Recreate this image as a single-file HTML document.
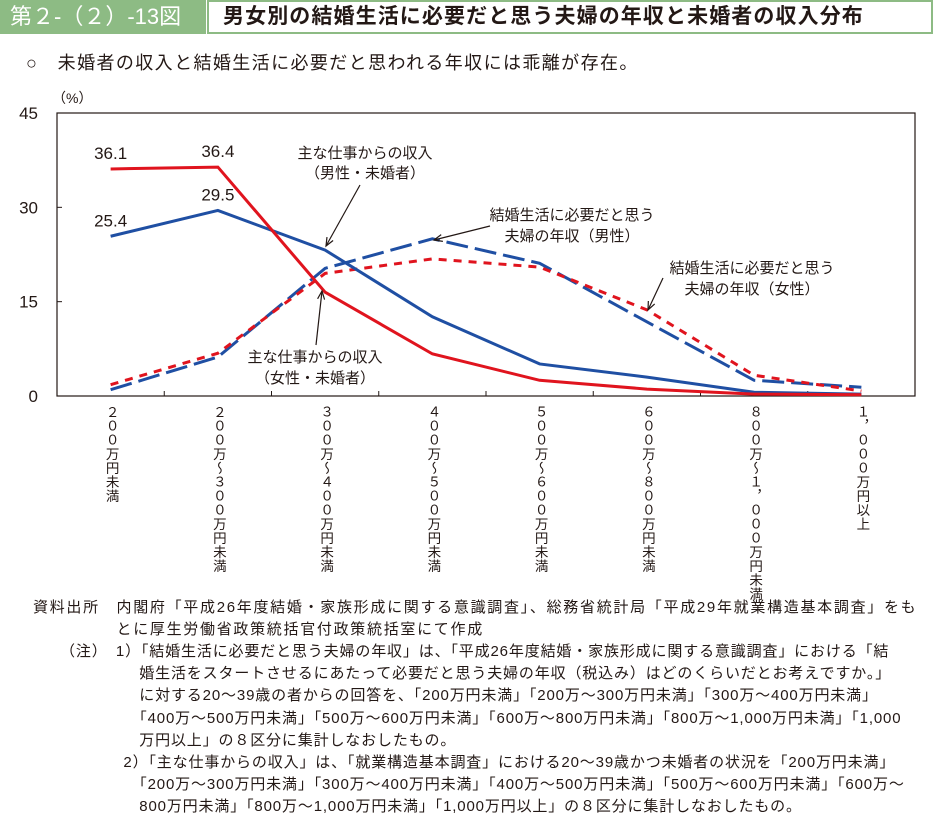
<!DOCTYPE html>
<html><head><meta charset="utf-8">
<style>
body{margin:0;width:933px;height:836px;background:#fff;font-family:"Liberation Sans","Noto Sans CJK JP",sans-serif;color:#231815;position:relative;overflow:hidden}
.abs{position:absolute;white-space:nowrap}
.vl{position:absolute;writing-mode:vertical-rl;font-size:13.5px;line-height:14px;letter-spacing:0.5px;top:405px}
.note{font-size:15px;line-height:22.2px}
</style></head><body>
<div class="abs" style="left:0;top:0;width:206px;height:34px;background:#8dbb84;color:#fff;font-size:22px;line-height:34px;padding-left:10px;box-sizing:border-box">第２-（２）-13図</div>
<div class="abs" style="left:207px;top:0;width:726px;height:34px;border:2px solid #8dbb84;box-sizing:border-box;font-size:21px;font-weight:bold;line-height:30px;padding-left:14px;letter-spacing:1.1px">男女別の結婚生活に必要だと思う夫婦の年収と未婚者の収入分布</div>
<div class="abs" style="left:26px;top:49px;font-size:18px;letter-spacing:1.4px">○　未婚者の収入と結婚生活に必要だと思われる年収には乖離が存在。</div>

<svg class="abs" style="left:0;top:0" width="933" height="600" id="chart"></svg>

<div id="xlabels"></div>

<div class="abs note" style="left:33px;top:597px;letter-spacing:1.7px">資料出所　内閣府「平成26年度結婚・家族形成に関する意識調査」、総務省統計局「平成29年就業構造基本調査」をも<br>　　　　　とに厚生労働省政策統括官付政策統括室にて作成</div>
<div class="abs note" style="left:60px;top:641px;letter-spacing:0.85px">（注）　1）「結婚生活に必要だと思う夫婦の年収」は、「平成26年度結婚・家族形成に関する意識調査」における「結<br>　　　　　婚生活をスタートさせるにあたって必要だと思う夫婦の年収（税込み）はどのくらいだとお考えですか。」<br>　　　　　に対する20～39歳の者からの回答を、「200万円未満」「200万～300万円未満」「300万～400万円未満」<br>　　　　　「400万～500万円未満」「500万～600万円未満」「600万～800万円未満」「800万～1,000万円未満」「1,000<br>　　　　　万円以上」の８区分に集計しなおしたもの。<br>　　　　2）「主な仕事からの収入」は、「就業構造基本調査」における20～39歳かつ未婚者の状況を「200万円未満」<br>　　　　　「200万～300万円未満」「300万～400万円未満」「400万～500万円未満」「500万～600万円未満」「600万～<br>　　　　　800万円未満」「800万～1,000万円未満」「1,000万円以上」の８区分に集計しなおしたもの。</div>

<script>
const categories=["２００万円未満","２００万～３００万円未満","３００万～４００万円未満","４００万～５００万円未満","５００万～６００万円未満","６００万～８００万円未満","８００万～１，０００万円未満","１，０００万円以上"];
const maleIncome=[25.4,29.5,23.2,12.6,5.1,3.0,0.6,0.3];
const femaleIncome=[36.1,36.4,16.5,6.7,2.5,1.1,0.3,0.2];
const maleNeeded=[1.0,6.2,20.3,25.0,21.1,11.8,2.5,1.4];
const femaleNeeded=[1.8,6.8,19.5,21.8,20.5,13.7,3.3,0.8];
const yTicks=[0,15,30,45];
const L=57,R=915,T=113,B=396;
const xs=i=>L+(R-L)/8*(i+0.5);
const ys=v=>B-(B-T)*v/45;
const svg=document.getElementById('chart');
const NS="http://www.w3.org/2000/svg";
function mk(t,a){const e=document.createElementNS(NS,t);for(const k in a)e.setAttribute(k,a[k]);svg.appendChild(e);return e;}
const frame=mk('rect',{x:L,y:T,width:R-L,height:B-T,fill:'none',stroke:'#231815','stroke-width':1.2});


yTicks.forEach(v=>{
  const t=mk('text',{x:38,y:ys(v)+6,'text-anchor':'end','font-size':17,fill:'#231815'});t.textContent=v;
  
  
  mk('line',{x1:L,x2:L+5,y1:ys(v),y2:ys(v),stroke:'#231815'});
});
const yu=mk('text',{x:52,y:103,'font-size':14,fill:'#231815'});yu.textContent='（%）';


for(let i=1;i<8;i++){const x=L+(R-L)/8*i;mk('line',{x1:x,x2:x,y1:B,y2:B-5,stroke:'#231815'});}
function series(vals,color,dash,name){
  const p=mk('polyline',{points:vals.map((v,i)=>xs(i)+','+ys(v)).join(' '),fill:'none',stroke:color,'stroke-width':3,'stroke-dasharray':dash||'none'});
  
  
}
series(maleNeeded,'#1f4fa3','22,7','line-male-needed');
series(femaleNeeded,'#e0141e','8,7','line-female-needed');
series(maleIncome,'#1f4fa3',null,'line-male-income');
series(femaleIncome,'#e0141e',null,'line-female-income');
function lbl(x,y,s,name,sz){const t=mk('text',{x:x,y:y,'text-anchor':'middle','font-size':sz||15,fill:'#231815'});t.textContent=s;
  
  }
lbl(xs(0),ys(femaleIncome[0])-10,femaleIncome[0].toFixed(1),'value-label',17);
lbl(xs(1),ys(femaleIncome[1])-10,femaleIncome[1].toFixed(1),'value-label',17);
lbl(xs(0),ys(maleIncome[0])-10,maleIncome[0].toFixed(1),'value-label',17);
lbl(xs(1),ys(maleIncome[1])-10,maleIncome[1].toFixed(1),'value-label',17);
lbl(365,158,'主な仕事からの収入','annotation-male-income');lbl(365,178,'（男性・未婚者）','annotation-male-income');
lbl(572,220,'結婚生活に必要だと思う','annotation-male-needed');lbl(572,241,'夫婦の年収（男性）','annotation-male-needed');
lbl(752,273,'結婚生活に必要だと思う','annotation-female-needed');lbl(752,294,'夫婦の年収（女性）','annotation-female-needed');
lbl(315,362,'主な仕事からの収入','annotation-female-income');lbl(315,383,'（女性・未婚者）','annotation-female-income');
function arrow(x1,y1,x2,y2){mk('line',{x1:x1,y1:y1,x2:x2,y2:y2,stroke:'#231815','stroke-width':1.2});
  const a=Math.atan2(y2-y1,x2-x1),s=9;
  mk('path',{d:`M${x2-s*Math.cos(a-0.4)},${y2-s*Math.sin(a-0.4)} L${x2},${y2} L${x2-s*Math.cos(a+0.4)},${y2-s*Math.sin(a+0.4)}`,fill:'none',stroke:'#231815','stroke-width':1.2});}
arrow(360,185,326,246);
arrow(490,226,434,240);
arrow(663,278,648,310);
arrow(316,345,322,291);
const xl=document.getElementById('xlabels');
categories.forEach((c,i)=>{
  const d=document.createElement('div');d.className='vl';
  
  
  d.style.left=(xs(i)-7)+'px';d.textContent=c;xl.appendChild(d);
});
</script>
</body></html>
